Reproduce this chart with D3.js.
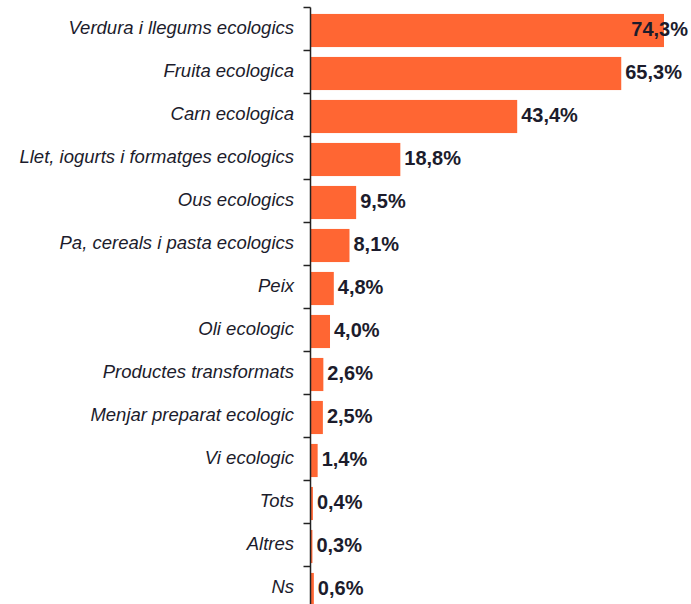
<!DOCTYPE html>
<html>
<head>
<style>
  body, html { margin: 0; padding: 0; background: #fff; }
  svg { display: block; }
</style>
</head>
<body>
<svg id="svg" width="691" height="604"></svg>
<script src="https://d3js.org/d3.v7.min.js"></script>
<script>
  const categories = [
    'Verdura i llegums ecologics', 'Fruita ecologica', 'Carn ecologica',
    'Llet, iogurts i formatges ecologics', 'Ous ecologics',
    'Pa, cereals i pasta ecologics', 'Peix', 'Oli ecologic',
    'Productes transformats', 'Menjar preparat ecologic', 'Vi ecologic',
    'Tots', 'Altres', 'Ns'
  ]
  const values = [74.3, 65.3, 43.4, 18.8, 9.5, 8.1, 4.8, 4.0, 2.6, 2.5, 1.4, 0.4, 0.3, 0.6]
  const valueLabels = ['74,3%', '65,3%', '43,4%', '18,8%', '9,5%', '8,1%', '4,8%', '4,0%',
    '2,6%', '2,5%', '1,4%', '0,4%', '0,3%', '0,6%']

  const data = categories.map((c, i) => ({ label: c, value: values[i], text: valueLabels[i] }))

  const axisX = 310.5
  const barX = 311
  const topY = 7.5
  const svg = d3.select('#svg')

  const yscale = d3.scaleBand()
    .domain(categories)
    .range([topY, topY + 14 * 43])
    .paddingInner(0.23)
    .paddingOuter(0.115)
  const shift = 1.5

  const xscale = d3.scaleLinear()
    .domain([0, 74.3])
    .range([barX, 664])

  svg.append('g')
    .selectAll('rect')
    .data(data)
    .enter()
    .append('rect')
    .attr('x', barX)
    .attr('y', d => yscale(d.label) + shift)
    .attr('width', d => xscale(d.value) - barX)
    .attr('height', yscale.bandwidth())
    .attr('fill', '#ff6633')

  // axis line with ticks at band boundaries
  const axis = svg.append('g')
  axis.append('line')
    .attr('x1', axisX).attr('x2', axisX)
    .attr('y1', topY).attr('y2', 604)
    .attr('stroke', '#222').attr('stroke-width', 1.5)
  const step = yscale.step()
  axis.selectAll('line.tick')
    .data(d3.range(14))
    .enter()
    .append('line')
    .attr('class', 'tick')
    .attr('x1', axisX - 7).attr('x2', axisX)
    .attr('y1', i => topY + i * step).attr('y2', i => topY + i * step)
    .attr('stroke', '#222').attr('stroke-width', 1.5)

  svg.append('g')
    .selectAll('text')
    .data(data)
    .enter()
    .append('text')
    .attr('x', 294)
    .attr('y', d => yscale(d.label) + yscale.bandwidth() / 2 - 1)
    .attr('dy', '0.35em')
    .attr('text-anchor', 'end')
    .attr('font-family', 'Liberation Sans, Arial, sans-serif')
    .attr('font-style', 'italic')
    .attr('font-size', 18.5)
    .attr('fill', '#1c1c2c')
    .text(d => d.label)

  const vals = svg.append('g')
    .selectAll('text')
    .data(data)
    .enter()
    .append('text')
    .attr('y', d => yscale(d.label) + yscale.bandwidth() / 2)
    .attr('dy', '0.35em')
    .attr('font-family', 'Liberation Sans, Arial, sans-serif')
    .attr('font-weight', 'bold')
    .attr('font-size', 20)
    .attr('fill', '#1c1c2c')
    .text(d => d.text)

  vals.each(function (d) {
    const w = this.getComputedTextLength()
    let x = xscale(d.value) + 4
    if (x + w > 688) x = 688 - w
    d3.select(this).attr('x', x)
  })
</script>
</body>
</html>
